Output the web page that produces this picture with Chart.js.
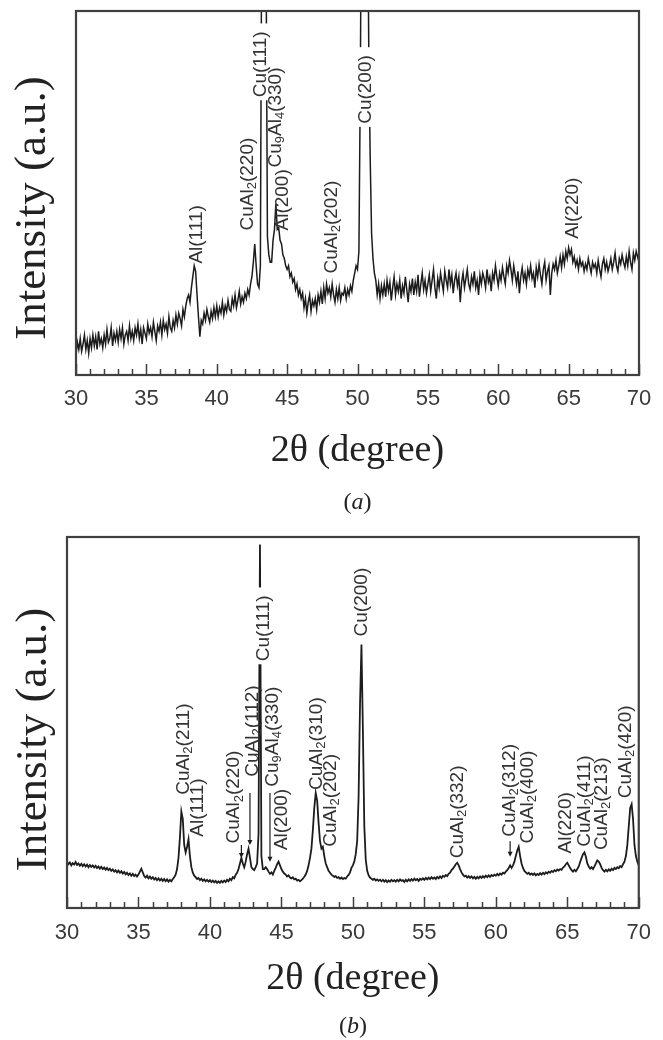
<!DOCTYPE html>
<html>
<head>
<meta charset="utf-8">
<title>XRD patterns (a) and (b)</title>
<script src="https://cdn.jsdelivr.net/npm/chart.js@4.4.1/dist/chart.umd.min.js"></script>
<style>
  html, body { margin: 0; padding: 0; background: #fff; }
  .panel { position: absolute; left: 0; width: 663px; height: 520px; }
  #panel-a { top: 0; }
  #panel-b { top: 520px; }
  canvas { display: block; }
</style>
</head>
<body>
<div class="panel" id="panel-a"><canvas id="chart-a" width="663" height="520"></canvas></div>
<div class="panel" id="panel-b"><canvas id="chart-b" width="663" height="520"></canvas></div>
<script>
'use strict';

// ===== DATA =====
// 2θ grid: 30.0 .. 70.0 in 0.1° steps, one row per degree
const TWO_THETA_START = 30;
const TWO_THETA_STEP = 0.1;
const tickLabels = [30, 35, 40, 45, 50, 55, 60, 65, 70];

// Pattern (a) intensity (0 = bottom axis, 100 = top)
const intensityA = [
  5.5, 9, 7, 10, 6.5, 8.5, 11, 7, 9.5, 6,
  10, 7.5, 11, 8, 10.5, 7, 12, 8.5, 10, 7.5,
  11, 8.5, 12.5, 9, 10, 13, 8, 11.5, 9.5, 12,
  9, 12.5, 10, 13, 8.5, 11, 12, 9.5, 13.5, 10,
  12, 9.5, 13, 11, 14, 10, 12.5, 8.5, 13, 11.5,
  10, 14, 11.5, 13, 10.5, 14.5, 12, 9.5, 13.5, 12,
  14.5, 11, 15, 12.5, 14, 11.5, 16, 13, 12, 15,
  13, 16.5, 14, 17, 15.5, 13.5, 18, 16, 19, 21,
  22, 20, 24, 27, 30, 28.5, 22, 16, 10.5, 15,
  14, 17, 15, 18, 16, 14.5, 17.5, 15.5, 18.5, 16,
  19, 16, 18.5, 17, 20, 16.5, 19, 17.5, 20.5, 18,
  17.5, 21, 19, 22, 18.5, 20.5, 23, 19.5, 21.5, 20,
  22.5, 21, 23.5, 22, 25, 27, 31, 36, 30, 25,
  24, 30, 130, 170, 160, 120, 38, 33, 31, 31,
  37, 40, 47, 40, 40.5, 37, 36, 33, 32, 30,
  29, 30, 27, 28, 25.5, 26.5, 23.5, 25, 22, 23.5,
  21, 22.5, 18.5, 21, 17, 20, 22, 17.5, 20.5, 19,
  21, 18, 22, 20, 23, 19.5, 24, 21, 25, 22.5,
  24, 21.5, 25, 22, 20, 23.5, 21, 24, 20.5, 22.5,
  22, 24, 21, 23.5, 22, 24.5, 23, 26, 28, 30,
  29, 34, 80, 150, 175, 180, 170, 140, 90, 60,
  39, 32, 28, 26, 22, 25, 21, 24.5, 22, 25,
  21.5, 26, 23, 25.5, 20.5, 24, 27, 22, 25, 23,
  26, 21, 24.5, 22.5, 27, 23.5, 20, 25, 23, 26.5,
  22, 25.5, 23, 27.5, 21.5, 25, 28, 23.5, 26, 22.5,
  25, 27.5, 23, 26, 29, 24, 21, 26.5, 24, 28,
  25.5, 23, 28.5, 26, 24, 29, 25, 27.5, 22.5, 26,
  28, 24.5, 27, 20, 25.5, 28, 24, 26.5, 29, 25,
  23.5, 27, 25, 28.5, 24, 26, 22, 27.5, 25, 28,
  26.5, 24, 29, 25.5, 27, 23, 28, 26, 30, 27,
  24.5, 28, 26, 29.5, 27, 25, 30, 28, 31.5, 29,
  26, 30, 27.5, 25, 28.5, 22.5, 27, 29.5, 26, 28,
  25, 29, 27, 30, 26.5, 28, 24, 29.5, 27, 30.5,
  27.5, 25, 29, 31, 26, 28.5, 30, 22, 28, 30.5,
  29, 31.5, 28, 30, 32.5, 29.5, 33, 30.5, 34, 32,
  35, 33, 34.5, 31, 32.5, 30, 31.5, 29, 32, 30,
  31, 28.5, 30.5, 29, 32, 30, 28, 31, 29.5, 30.5,
  28, 31.5, 29, 27, 30.5, 32, 29, 31, 28.5, 30,
  32, 29, 31, 33.5, 30, 28.5, 32, 30.5, 33, 31,
  29.5, 32.5, 30, 34, 31, 29, 33.5, 31.5, 34, 32.5,
  31
];

// Pattern (b) intensity
const intensityB = [
  12.5, 11.8, 12.3, 11.5, 12.1, 11.7, 12.4, 11.6, 12.0, 11.4,
  11.9, 11.3, 11.8, 11.2, 11.7, 11.0, 11.6, 11.1, 11.5, 10.9,
  11.4, 10.8, 11.2, 10.6, 11.1, 10.5, 10.9, 10.3, 10.8, 10.2,
  10.6, 10.0, 10.4, 9.8, 10.2, 9.6, 10.1, 9.5, 9.9, 9.3,
  9.7, 9.1, 9.5, 8.9, 9.3, 8.7, 9.2, 8.6, 9.0, 8.5,
  9.0, 9.8, 10.6, 9.6, 8.6, 8.2, 8.7, 8.0, 8.5, 7.9,
  8.3, 7.7, 8.1, 7.5, 8.0, 7.4, 7.9, 7.3, 7.8, 7.2,
  7.7, 7.1, 7.6, 7.2, 7.8, 8.3, 9.0, 10.5, 13.5, 19,
  26, 24, 17, 15, 16.5, 18.5, 14, 11, 9.5, 8.7,
  8.3, 7.8, 8.1, 7.5, 7.9, 7.3, 7.7, 7.2, 7.6, 7.1,
  7.5, 7.0, 7.4, 6.9, 7.3, 6.8, 7.2, 6.8, 7.3, 6.9,
  7.4, 7.0, 7.6, 7.2, 7.9, 7.5, 8.3, 8.0, 9.0, 9.5,
  10.5, 12, 13.5, 12, 11, 12.5, 14.5, 16, 13.5, 11,
  10.5, 10.2, 11, 12, 20, 98, 14, 10.5, 10.5, 11,
  10.5, 9.8, 9.2, 9.6, 9.0, 10, 10.8, 11.8, 12.5, 11.5,
  10.5, 9.8, 9.3, 9.0, 8.5, 8.8, 8.2, 8.0, 8.3, 7.7,
  7.9, 7.4, 7.6, 7.2, 7.5, 7.9, 8.4, 9.0, 10.0, 11.5,
  13.5, 16, 21, 27, 31, 29, 23, 18, 16, 16.5,
  14, 12, 11, 10, 9.5, 9, 8.7, 8.4, 8.6, 8.1,
  8.3, 7.9, 8.2, 7.8, 8.1, 7.9, 8.5, 8.9, 9.6, 10.8,
  11.5, 12.5, 14.5, 18, 30, 55, 71, 48, 22, 13,
  10.0, 8.8, 8.2, 7.9, 7.6, 7.9, 7.4, 7.7, 7.3, 7.6,
  7.2, 7.6, 7.1, 7.5, 7.0, 7.4, 7.1, 7.6, 7.2, 7.5,
  7.1, 7.6, 7.2, 7.7, 7.3, 7.5, 7.0, 7.6, 7.2, 7.7,
  7.3, 7.8, 7.4, 7.9, 7.5, 7.8, 7.3, 7.9, 7.6, 8.0,
  7.6, 8.1, 7.7, 8.2, 7.8, 8.3, 7.9, 8.2, 7.8, 8.4,
  8.0, 8.5, 8.1, 8.7, 8.4, 8.9, 8.6, 9.2, 9.5, 10.2,
  10.6, 11.2, 11.8, 12.2, 11.5, 10.5, 9.6, 9.0, 8.5, 8.7,
  8.2, 8.6, 8.1, 8.5, 8.0, 8.4, 7.9, 8.4, 8.0, 8.5,
  8.1, 8.6, 8.2, 8.7, 8.3, 8.8, 8.4, 8.9, 8.6, 9.0,
  8.7, 9.2, 8.8, 9.3, 9.0, 9.5, 9.3, 9.8, 10.2, 10.8,
  11.5, 10.8, 11.5, 12.5, 14, 15.5, 16.5, 14, 12, 10.8,
  10.0, 9.6, 9.2, 9.5, 9.0, 9.3, 8.9, 9.3, 8.8, 9.2,
  8.9, 9.4, 9.0, 9.5, 9.1, 9.6, 9.3, 9.8, 9.5, 10.0,
  9.7, 10.2, 9.9, 10.4, 10.1, 10.5, 10.3, 10.9, 11.2, 11.8,
  12.2, 11.5, 10.8, 10.2, 9.8, 10.3, 9.9, 10.5, 11.2, 12.4,
  13.5, 14.5, 15, 13.8, 12, 11.2, 10.6, 11.0, 10.5, 11.2,
  12.0, 12.8, 12.5, 11.8, 10.8, 10.2, 9.8, 10.3, 9.9, 10.4,
  10.0, 10.6, 10.2, 10.8, 10.5, 11.0, 10.7, 11.3, 11.0, 11.8,
  12.5, 14, 17, 22, 27, 28, 24, 17, 14, 12.5,
  11.5
];

// Peak labels: text ("_n" = subscript), 2θ of the label, intensity at the label foot
const peakNamesA = ['Al(111)', 'CuAl_2(220)', 'Cu(111)', 'Cu_9Al_4(330)', 'Al(200)', 'CuAl_2(202)', 'Cu(200)', 'Al(220)'];
const peakPosA = [38.6, 42.2, 43.1, 44.2, 44.7, 48.2, 50.6, 65.3];
const peakFootA = [30.6, 39.7, 76.3, 57, 39.7, 27.9, 69, 37.4];
const maskedA = ['Cu(111)', 'Cu(200)'];

const peakNamesB = ['CuAl_2(211)', 'Al(111)', 'CuAl_2(220)', 'CuAl_2(112)', 'Cu(111)', 'Cu_9Al_4(330)', 'Al(200)',
  'CuAl_2(310)', 'CuAl_2(202)', 'Cu(200)', 'CuAl_2(332)', 'CuAl_2(312)', 'CuAl_2(400)', 'Al(220)',
  'CuAl_2(411)', 'CuAl_2(213)', 'CuAl_2(420)'];
const peakPosB = [38.16, 39.15, 41.7, 43.0, 43.75, 44.4, 45.0, 47.45, 48.46, 50.65, 57.35, 60.97, 62.24, 64.9, 66.2, 67.4, 69.06];
const peakFootB = [30.5, 19.2, 17.4, 35.4, 66.5, 32.7, 15.6, 31.8, 16.5, 73.2, 13.4, 19.2, 17.4, 14.7, 16.5, 15.6, 29.6];
const maskedB = ['Cu(111)'];

// Pointer arrows in (b): 2θ, top and tip intensity
const arrowPosB = [42.2, 42.8, 44.2, 61.0];
const arrowTopB = [17, 31, 31, 18];
const arrowTipB = [13.5, 17, 12.5, 13.8];

// ===== STYLE =====
const SERIF = "'Liberation Serif', 'Times New Roman', serif";
const SANS = "'Liberation Sans', Arial, sans-serif";
const INK = '#1c1c1c';
const AXIS_COLOR = '#404040';
const LABEL_COLOR = '#333';
const LABEL_SIZE = 19;

const boxA = { top: 11, right: 24, bottom: 46, yWidth: 76, xHeight: 99, tickPad: 11, lineWidth: 1.5, titleX: 33, titleShift: 15, captionY: 503 };
const boxB = { top: 17, right: 23, bottom: 38, yWidth: 67, xHeight: 94, tickPad: 12, lineWidth: 1.8, titleX: 34, titleShift: 17, captionY: 507 };

// ===== DRAWING HELPERS =====
function splitSubscripts(text) {
  return text.split(/(_\d)/).filter(Boolean)
    .map(s => s[0] === '_' ? { t: s.slice(1), sub: true } : { t: s, sub: false });
}

function drawVerticalLabel(ctx, text, px, py, masked) {
  const parts = splitSubscripts(text);
  const fontFor = sub => `${sub ? Math.round(LABEL_SIZE * 0.7) : LABEL_SIZE}px ${SANS}`;
  let w = 0;
  parts.forEach(p => { ctx.font = fontFor(p.sub); p.w = ctx.measureText(p.t).width; w += p.w; });

  ctx.save();
  ctx.translate(px, py);
  ctx.rotate(-Math.PI / 2);
  if (masked) {
    ctx.fillStyle = '#fff';
    ctx.fillRect(-3, -LABEL_SIZE * 0.45, w + 11, LABEL_SIZE * 0.9);
  }
  ctx.fillStyle = LABEL_COLOR;
  ctx.textBaseline = 'middle';
  let cx = 0;
  parts.forEach(p => {
    ctx.font = fontFor(p.sub);
    ctx.fillText(p.t, cx, p.sub ? LABEL_SIZE * 0.25 : 0);
    cx += p.w;
  });
  ctx.restore();
}

function drawArrow(ctx, px, yTop, yTip) {
  ctx.beginPath();
  ctx.moveTo(px, yTop);
  ctx.lineTo(px, yTip - 3);
  ctx.stroke();
  ctx.beginPath();
  ctx.moveTo(px - 2.5, yTip - 5);
  ctx.lineTo(px + 2.5, yTip - 5);
  ctx.lineTo(px, yTip);
  ctx.closePath();
  ctx.fill();
}

// Peak labels and arrows, drawn over the pattern
function peakLabelPlugin(names, pos, foot, masked, arrows) {
  return {
    id: 'peakLabels',
    afterDatasetsDraw(chart) {
      const { ctx, scales: { x, y } } = chart;
      names.forEach((name, i) => {
        drawVerticalLabel(ctx, name, x.getPixelForValue(pos[i]), y.getPixelForValue(foot[i]), masked.includes(name));
      });
      if (!arrows) return;
      ctx.save();
      ctx.strokeStyle = INK;
      ctx.fillStyle = INK;
      ctx.lineWidth = 1.2;
      arrows.pos.forEach((v, i) => {
        drawArrow(ctx, x.getPixelForValue(v), y.getPixelForValue(arrows.top[i]), y.getPixelForValue(arrows.tip[i]));
      });
      ctx.restore();
    }
  };
}

// Box frame, inward ticks, y title and panel caption
function panelDecorPlugin(box, letter) {
  return {
    id: 'panelDecor',
    afterDraw(chart) {
      const { ctx, chartArea: a, scales: { x } } = chart;
      ctx.save();
      ctx.strokeStyle = AXIS_COLOR;
      ctx.lineWidth = 1.5;
      ctx.beginPath();
      for (let v = tickLabels[0]; v <= tickLabels[tickLabels.length - 1]; v += 1) {
        const px = Math.round(x.getPixelForValue(v)) + 0.5;
        const len = tickLabels.includes(v) ? 11 : 6;
        ctx.moveTo(px, a.bottom);
        ctx.lineTo(px, a.bottom - len);
      }
      ctx.stroke();
      ctx.lineWidth = 2.2;
      ctx.strokeRect(a.left, a.top, a.right - a.left, a.bottom - a.top);

      // y title
      ctx.fillStyle = '#222';
      ctx.font = `45px ${SERIF}`;
      ctx.textAlign = 'center';
      ctx.textBaseline = 'middle';
      ctx.translate(box.titleX, (a.top + a.bottom) / 2 + box.titleShift);
      ctx.rotate(-Math.PI / 2);
      ctx.fillText('Intensity (a.u.)', 0, 0);
      ctx.restore();

      // caption "(a)" with italic letter
      ctx.save();
      ctx.fillStyle = '#222';
      ctx.textBaseline = 'middle';
      const upright = `24px ${SERIF}`, italic = `italic 24px ${SERIF}`;
      ctx.font = upright; const wp = ctx.measureText('(').width;
      ctx.font = italic; const wl = ctx.measureText(letter).width;
      let cx = (a.left + a.right) / 2 - (2 * wp + wl) / 2;
      ctx.font = upright; ctx.fillText('(', cx, box.captionY); cx += wp;
      ctx.font = italic; ctx.fillText(letter, cx, box.captionY); cx += wl;
      ctx.font = upright; ctx.fillText(')', cx, box.captionY);
      ctx.restore();
    }
  };
}

// ===== CHART =====
function buildXrdChart(canvasId, intensity, box, plugins) {
  const points = intensity.map((v, i) => ({ x: +(TWO_THETA_START + i * TWO_THETA_STEP).toFixed(2), y: v }));
  return new Chart(document.getElementById(canvasId), {
    type: 'line',
    data: {
      datasets: [{
        data: points,
        borderColor: INK,
        borderWidth: box.lineWidth,
        pointRadius: 0,
        tension: 0,
        fill: false
      }]
    },
    options: {
      responsive: false,
      animation: false,
      events: [],
      layout: { padding: { top: box.top, right: box.right, bottom: box.bottom, left: 0 } },
      plugins: { legend: { display: false }, tooltip: { enabled: false } },
      scales: {
        x: {
          type: 'linear',
          min: tickLabels[0],
          max: tickLabels[tickLabels.length - 1],
          afterFit: s => { s.height = box.xHeight; },
          grid: { display: false, drawTicks: false },
          border: { display: false },
          ticks: { stepSize: 5, autoSkip: false, maxRotation: 0, padding: box.tickPad, color: '#3a3a3a', font: { family: SANS, size: 22 } },
          title: { display: true, text: '2θ (degree)', padding: 0, color: '#222', font: { family: SERIF, size: 38 } }
        },
        y: {
          min: 0,
          max: 100,
          afterFit: s => { s.width = box.yWidth; },
          grid: { display: false, drawTicks: false },
          border: { display: false },
          ticks: { display: false }
        }
      }
    },
    plugins
  });
}

document.addEventListener('DOMContentLoaded', () => {
  buildXrdChart('chart-a', intensityA, boxA, [
    peakLabelPlugin(peakNamesA, peakPosA, peakFootA, maskedA, null),
    panelDecorPlugin(boxA, 'a')
  ]);
  buildXrdChart('chart-b', intensityB, boxB, [
    peakLabelPlugin(peakNamesB, peakPosB, peakFootB, maskedB, { pos: arrowPosB, top: arrowTopB, tip: arrowTipB }),
    panelDecorPlugin(boxB, 'b')
  ]);
});
</script>
</body>
</html>
